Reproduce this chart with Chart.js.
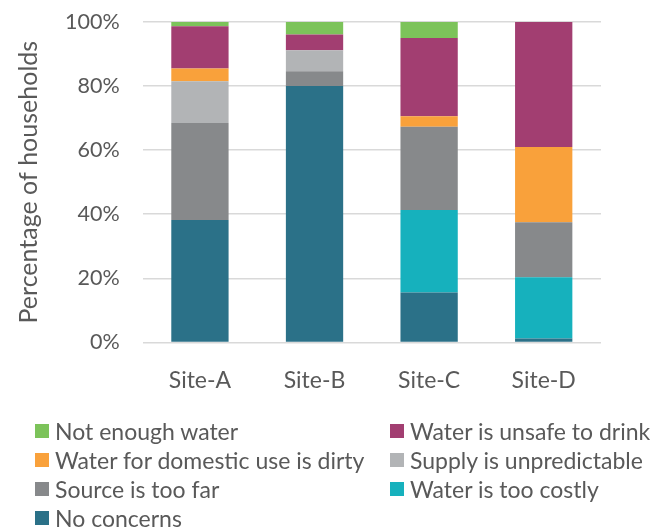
<!DOCTYPE html>
<html>
<head>
<meta charset="utf-8">
<script src="https://cdn.jsdelivr.net/npm/chart.js@4.4.1/dist/chart.umd.min.js"></script>
<style>
    html, body { margin: 0; padding: 0; background: #fff; }
    #wrap { position: relative; width: 670px; height: 531px; }
    #chartBox { position: absolute; left: 0; top: 0; width: 670px; height: 423px; }
    #legend {
        position: absolute; left: 35px; top: 418px;
        display: grid; grid-template-columns: 355px 280px; row-gap: 3px;
        font-family: Lato, sans-serif; font-size: 23px; color: #595959;
    }
    .item { display: flex; align-items: center; height: 26px; white-space: nowrap; }
    .box { width: 14px; height: 14px; margin-right: 6px; flex: none; }
</style>
</head>
<body>
<div id="wrap">
    <div id="chartBox"><canvas id="chart"></canvas></div>
    <div id="legend"></div>
</div>
<script>
const sites = ['Site-A', 'Site-B', 'Site-C', 'Site-D'];
const yTicks = [0, 20, 40, 60, 80, 100];

// stacked bottom to top
const noConcerns   = [38.2, 80.0, 15.6, 1.2];
const tooCostly    = [0, 0, 25.7, 19.1];
const tooFar       = [30.3, 4.6, 26.0, 17.2];
const unpredictable = [13.0, 6.6, 0, 0];
const dirty        = [4.0, 0, 3.3, 23.5];
const unsafe       = [13.2, 4.9, 24.4, 39.0];
const notEnough    = [1.3, 3.9, 5.0, 0];

const series = [
    { label: 'No concerns', data: noConcerns, color: '#2b7188' },
    { label: 'Water is too costly', data: tooCostly, color: '#16b1bd' },
    { label: 'Source is too far', data: tooFar, color: '#87898b' },
    { label: 'Supply is unpredictable', data: unpredictable, color: '#b2b4b6' },
    { label: 'Water for domestic use is dirty', data: dirty, color: '#f9a13b' },
    { label: 'Water is unsafe to drink', data: unsafe, color: '#a23e71' },
    { label: 'Not enough water', data: notEnough, color: '#7cc35a' }
];

const textColor = '#595959';
const gridColor = '#d9d9d9';

const chart = new Chart(document.getElementById('chart'), {
    type: 'bar',
    data: {
        labels: sites,
        datasets: series.map(s => ({
            label: s.label,
            data: s.data,
            backgroundColor: s.color,
            borderWidth: 0,
            categoryPercentage: 1,
            barPercentage: 0.5
        }))
    },
    options: {
        responsive: true,
        maintainAspectRatio: false,
        animation: false,
        layout: { padding: { left: 14, right: 69, top: 22, bottom: 13 } },
        plugins: {
            legend: { display: false },
            tooltip: { enabled: false }
        },
        scales: {
            x: {
                stacked: true,
                grid: { display: false },
                border: { display: false },
                ticks: {
                    color: textColor,
                    padding: 16,
                    font: { family: 'Lato', size: 23 }
                }
            },
            y: {
                stacked: true,
                min: 0,
                max: 100,
                afterBuildTicks: axis => { axis.ticks = yTicks.map(v => ({ value: v })); },
                // the gap between labels and plot comes from the (invisible) tick marks
                grid: { color: gridColor, lineWidth: 1.5, drawTicks: true, tickLength: 23, tickColor: 'rgba(0,0,0,0)' },
                border: { display: false },
                ticks: {
                    color: textColor,
                    padding: 0,
                    font: { family: 'Lato', size: 21.5 },
                    callback: v => v + '%'
                },
                title: {
                    display: true,
                    text: 'Percentage of households',
                    color: textColor,
                    padding: { top: 0, bottom: 21 },
                    font: { family: 'Lato', size: 25 }
                }
            }
        }
    }
});

// legend: top of stack first, two columns
const legend = document.getElementById('legend');
series.slice().reverse().forEach(s => {
    const item = document.createElement('div');
    item.className = 'item';
    const box = document.createElement('span');
    box.className = 'box';
    box.style.background = s.color;
    const txt = document.createElement('span');
    txt.textContent = s.label;
    item.appendChild(box);
    item.appendChild(txt);
    legend.appendChild(item);
});
</script>
</body>
</html>
